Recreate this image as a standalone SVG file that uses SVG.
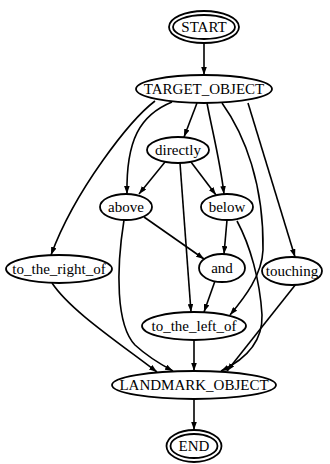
<svg xmlns="http://www.w3.org/2000/svg" width="330" height="464" viewBox="0 0 330 464">
<defs>
<marker id="arr" viewBox="0 0 10 7" refX="10" refY="3.5" markerWidth="8" markerHeight="5.6" markerUnits="userSpaceOnUse" orient="auto">
<path d="M0,0 L10,3.5 L0,7 z" fill="#000"/>
</marker>
<style>
.n ellipse{fill:#fff;stroke:#000;stroke-width:1.8}
.n text{font-family:"Liberation Serif","Times New Roman",serif;font-size:15px;fill:#000;text-anchor:middle}
.e path{fill:none;stroke:#000;stroke-width:1.6;marker-end:url(#arr)}
</style>
</defs>
<rect width="330" height="464" fill="#fff"/>
<g id="edges" class="e">
<path d="M204,43 L204,75"/>
<path d="M155,101 C130,120 75,190 51,255"/>
<path d="M172,102 C140,115 126,140 127,194"/>
<path d="M197,103 L184,137"/>
<path d="M207,103 C212,130 220,160 224,194"/>
<path d="M222,103 C245,135 264,185 263,250 C262,275 245,297 230,315"/>
<path d="M248,103 L295,257"/>
<path d="M165,162 L139,194"/>
<path d="M191,162 L216,195"/>
<path d="M180,163 L191,312"/>
<path d="M144,217 L204,259"/>
<path d="M124,220 C116,270 116,325 135,345 C148,357 160,364 173,371"/>
<path d="M227,220 L224,254"/>
<path d="M237,221 C250,245 260,280 262,315 C263,345 240,362 221,371"/>
<path d="M215,281 L204,312"/>
<path d="M52,283 C70,310 115,340 157,372"/>
<path d="M194,340 L194,371"/>
<path d="M296,284 L227,371"/>
<path d="M194,399 L194,430"/>
</g>
<g id="START" class="n"><ellipse cx="204" cy="27" rx="35" ry="16"/><ellipse cx="204" cy="27" rx="31" ry="12"/><text x="204" y="32">START</text></g>
<g id="TARGET_OBJECT" class="n"><ellipse cx="204" cy="89" rx="68" ry="14"/><text x="204" y="94">TARGET_OBJECT</text></g>
<g id="directly" class="n"><ellipse cx="178" cy="150" rx="31" ry="13"/><text x="178" y="155">directly</text></g>
<g id="above" class="n"><ellipse cx="126" cy="207" rx="26" ry="13"/><text x="126" y="212">above</text></g>
<g id="below" class="n"><ellipse cx="227" cy="207" rx="26" ry="13"/><text x="227" y="212">below</text></g>
<g id="to_the_right_of" class="n"><ellipse cx="59" cy="269" rx="53" ry="14"/><text x="59" y="274">to_the_right_of</text></g>
<g id="and" class="n"><ellipse cx="222" cy="268" rx="23" ry="14"/><text x="222" y="273">and</text></g>
<g id="touching" class="n"><ellipse cx="292" cy="271" rx="30" ry="14"/><text x="292" y="276">touching</text></g>
<g id="to_the_left_of" class="n"><ellipse cx="194" cy="326" rx="52" ry="14"/><text x="194" y="331">to_the_left_of</text></g>
<g id="LANDMARK_OBJECT" class="n"><ellipse cx="194" cy="385" rx="82" ry="14"/><text x="194" y="390">LANDMARK_OBJECT</text></g>
<g id="END" class="n"><ellipse cx="194" cy="446" rx="27.5" ry="16"/><ellipse cx="194" cy="446" rx="23.5" ry="12"/><text x="194" y="451">END</text></g>
</svg>
